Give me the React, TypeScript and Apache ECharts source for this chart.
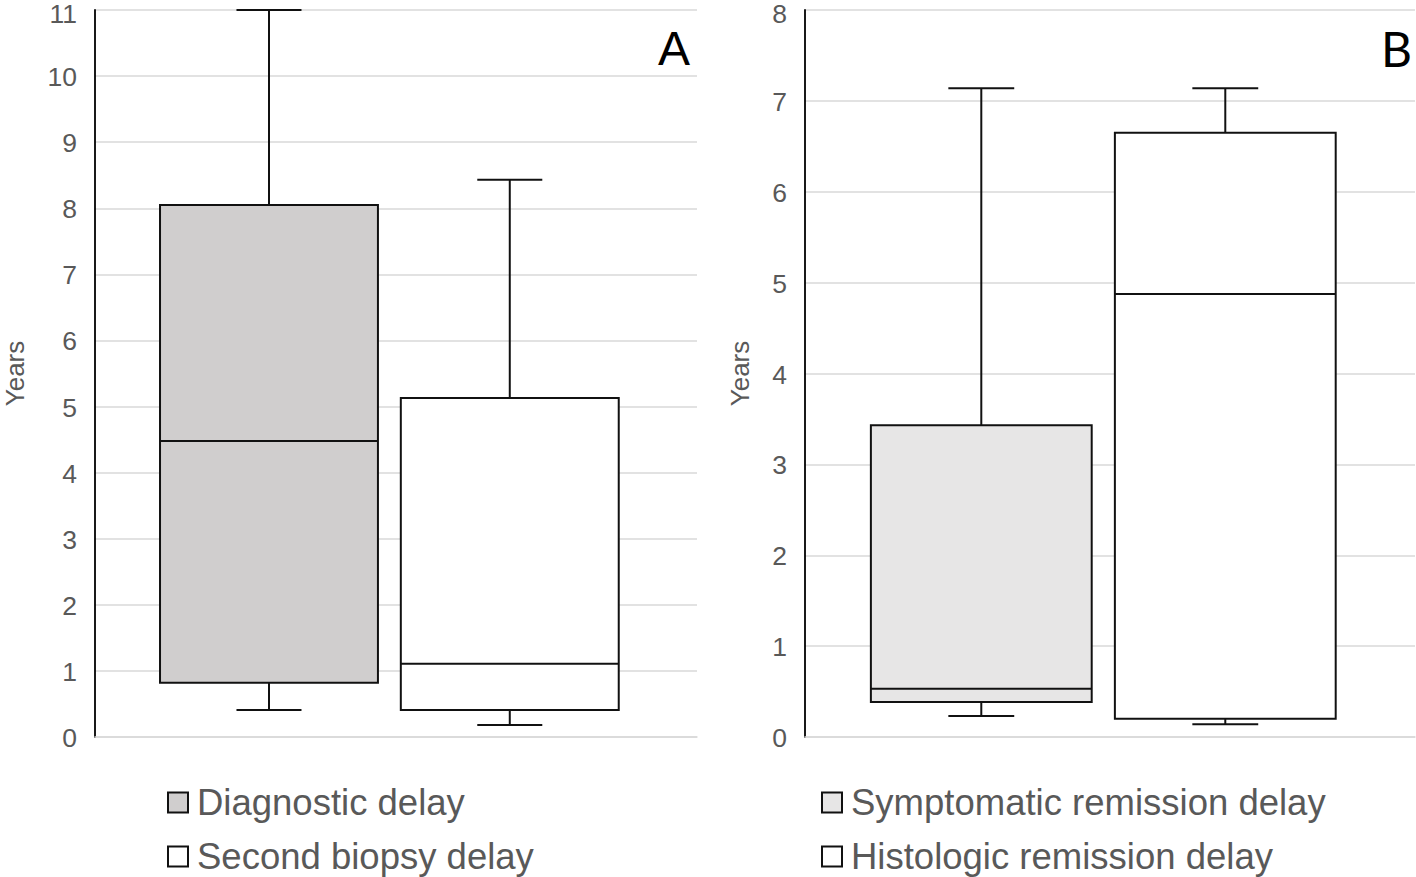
import React, { useEffect, useRef } from "react";
import * as echarts from "echarts";

// ---------- data ----------
const panelACategories = ["A"];
const panelBCategories = ["B"];

// [min, Q1, median, Q3, max] in years
const diagnosticDelay = [0.41, 0.82, 4.48, 8.05, 11.0];
const secondBiopsyDelay = [0.18, 0.41, 1.11, 5.13, 8.43];
const symptomaticRemissionDelay = [0.23, 0.385, 0.53, 3.43, 7.14];
const histologicRemissionDelay = [0.14, 0.2, 4.875, 6.65, 7.14];

const seriesNamesA = ["Diagnostic delay", "Second biopsy delay"];
const seriesNamesB = ["Symptomatic remission delay", "Histologic remission delay"];

const yMaxA = 11;
const yMaxB = 8;

// ---------- style ----------
const FONT = "'Liberation Sans', Arial, sans-serif";
const TEXT_GRAY = "#595959";
const GRID_GRAY = "#d9d9d9";
const FILL_A1 = "#d0cece";
const FILL_B1 = "#e7e6e6";
const FILL_WHITE = "#ffffff";
const STROKE = "#111111";
const LW = 2;

function boxRenderer(offsetRatio: number, widthRatio: number, capRatio: number) {
  return (params: any, api: any) => {
    const cat = api.value(0);
    const vMin = api.value(1);
    const vQ1 = api.value(2);
    const vMed = api.value(3);
    const vQ3 = api.value(4);
    const vMax = api.value(5);
    const band = api.size([1, 0])[0];
    const base = api.coord([cat, vMin]);
    const cx = base[0] + offsetRatio * band;
    const hw = (widthRatio * band) / 2;
    const cw = (capRatio * band) / 2;
    const yMin = api.coord([cat, vMin])[1];
    const yQ1 = api.coord([cat, vQ1])[1];
    const yMed = api.coord([cat, vMed])[1];
    const yQ3 = api.coord([cat, vQ3])[1];
    const yMax = api.coord([cat, vMax])[1];
    const fill = api.visual("color");
    const ls = { stroke: STROKE, lineWidth: LW };
    return {
      type: "group",
      children: [
        { type: "line", shape: { x1: cx, y1: yQ3, x2: cx, y2: yMax }, style: ls },
        { type: "line", shape: { x1: cx - cw, y1: yMax, x2: cx + cw, y2: yMax }, style: ls },
        { type: "line", shape: { x1: cx, y1: yQ1, x2: cx, y2: yMin }, style: ls },
        { type: "line", shape: { x1: cx - cw, y1: yMin, x2: cx + cw, y2: yMin }, style: ls },
        {
          type: "rect",
          shape: { x: cx - hw, y: yQ3, width: hw * 2, height: yQ1 - yQ3 },
          style: { fill, stroke: STROKE, lineWidth: LW },
        },
        { type: "line", shape: { x1: cx - hw, y1: yMed, x2: cx + hw, y2: yMed }, style: ls },
      ],
    };
  };
}

function makeBoxSeries(
  name: string,
  values: number[],
  axisIndex: number,
  fill: string,
  offsetRatio: number
) {
  return {
    name,
    type: "custom",
    xAxisIndex: axisIndex,
    yAxisIndex: axisIndex,
    itemStyle: { color: fill, borderColor: STROKE, borderWidth: LW },
    encode: { x: 0, y: [1, 2, 3, 4, 5] },
    renderItem: boxRenderer(offsetRatio, 0.362, 0.108),
    data: [[0, ...values]],
  };
}

function yAxisCfg(gridIndex: number, max: number) {
  const labelStyle = { color: TEXT_GRAY, fontSize: 26.5, fontFamily: FONT };
  return {
    type: "value",
    gridIndex,
    min: 0,
    max,
    interval: 1,
    name: "Years",
    nameLocation: "middle",
    nameGap: gridIndex === 0 ? 68 : 53,
    nameRotate: 90,
    nameTextStyle: { color: TEXT_GRAY, fontSize: 26, lineHeight: 24, fontFamily: FONT },
    axisLine: { show: true, lineStyle: { color: "#000", width: 1.8 } },
    axisTick: { show: false },
    axisLabel: {
      ...labelStyle,
      margin: 18,
      formatter: (v: number) => (v === max ? `{top|${v}}` : `{n|${v}}`),
      rich: {
        n: { ...labelStyle, lineHeight: 22, padding: [2, 0, 0, 0] },
        top: { ...labelStyle, lineHeight: 22, padding: [7, 0, 0, 0] },
      },
    },
    splitLine: { show: true, lineStyle: { color: GRID_GRAY, width: 1.5 } },
  };
}

function xAxisCfg(gridIndex: number, data: string[]) {
  return {
    type: "category",
    gridIndex,
    data,
    boundaryGap: true,
    axisLine: { show: true, lineStyle: { color: GRID_GRAY, width: 1.5 } },
    axisTick: { show: false },
    axisLabel: { show: false },
    splitLine: { show: false },
  };
}

function legendCfg(left: number, names: string[], fills: string[]) {
  return {
    orient: "vertical",
    left,
    top: 784,
    height: 92,
    padding: 0,
    itemWidth: 20,
    itemHeight: 20,
    itemGap: 17,
    icon: "rect",
    selectedMode: false,
    textStyle: {
      color: TEXT_GRAY,
      fontSize: 36.5,
      lineHeight: 35,
      fontFamily: FONT,
      padding: [0, 0, 0, 4],
    },
    data: names.map((n, i) => ({
      name: n,
      itemStyle: { color: fills[i], borderColor: STROKE, borderWidth: LW },
    })),
  };
}

export default function App() {
  const ref = useRef<HTMLDivElement>(null);
  useEffect(() => {
    if (!ref.current) return;
    const chart = echarts.init(ref.current, undefined, { renderer: "svg" });
    chart.setOption({
      animation: false,
      backgroundColor: "#ffffff",
      textStyle: { fontFamily: FONT },
      grid: [
        { left: 95, right: 719, top: 10, bottom: 140, containLabel: false, outerBoundsMode: "none" },
        { left: 805, right: 1, top: 10, bottom: 140, containLabel: false, outerBoundsMode: "none" },
      ],
      xAxis: [xAxisCfg(0, panelACategories), xAxisCfg(1, panelBCategories)],
      yAxis: [yAxisCfg(0, yMaxA), yAxisCfg(1, yMaxB)],
      legend: [
        legendCfg(167, seriesNamesA, [FILL_A1, FILL_WHITE]),
        legendCfg(821, seriesNamesB, [FILL_B1, FILL_WHITE]),
      ],
      series: [
        makeBoxSeries(seriesNamesA[0], diagnosticDelay, 0, FILL_A1, -0.211),
        makeBoxSeries(seriesNamesA[1], secondBiopsyDelay, 0, FILL_WHITE, 0.189),
        makeBoxSeries(seriesNamesB[0], symptomaticRemissionDelay, 1, FILL_B1, -0.211),
        makeBoxSeries(seriesNamesB[1], histologicRemissionDelay, 1, FILL_WHITE, 0.189),
      ],
      graphic: [
        {
          type: "text",
          right: 1416 - 690,
          top: 24,
          style: { text: "A", fill: "#000", fontSize: 48, fontFamily: FONT },
        },
        {
          type: "text",
          right: 4,
          top: 24,
          style: { text: "B", fill: "#000", fontSize: 48, fontFamily: "Lato, 'Open Sans', sans-serif" },
        },
      ],
    });
    return () => chart.dispose();
  }, []);
  return (
    <div
      ref={ref}
      style={{ position: "fixed", left: 0, top: 0, width: 1416, height: 877, background: "#fff" }}
    />
  );
}
